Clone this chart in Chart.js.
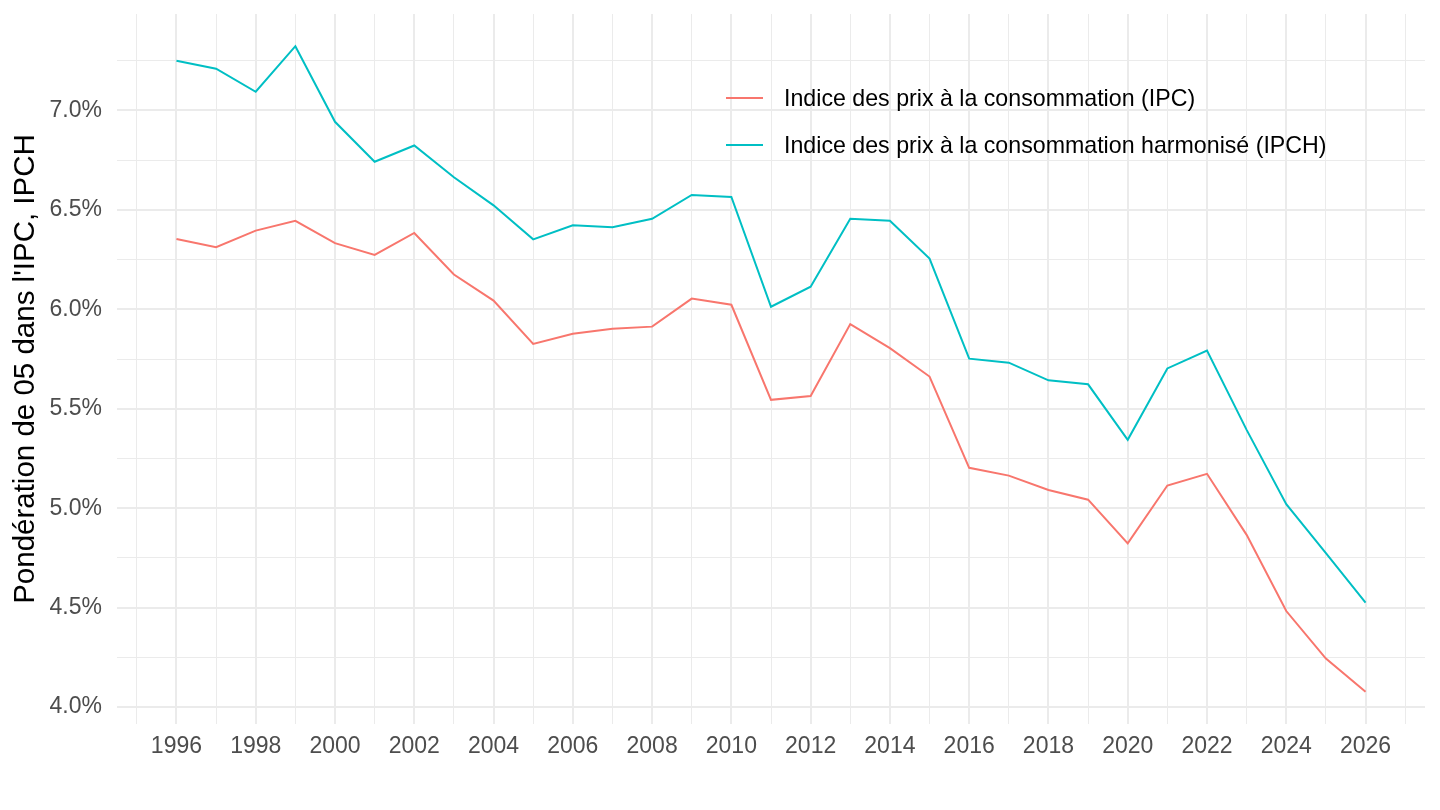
<!DOCTYPE html>
<html>
<head>
<meta charset="utf-8">
<script src="https://cdn.jsdelivr.net/npm/chart.js@4"></script>
<style>
  html, body { margin: 0; padding: 0; background: #fff; }
  #wrap { position: relative; width: 1440px; height: 810px; }
  #legend {
    position: absolute; left: 726px; top: 74.5px;
    font-family: "Liberation Sans", Arial, sans-serif; font-size: 23.2px; color: #000;
  }
  .item { display: flex; align-items: center; height: 47px; white-space: nowrap; }
  .swatch { width: 37px; height: 2px; margin-right: 21px; }
</style>
</head>
<body>
<div id="wrap">
  <canvas id="chart" width="1440" height="810"></canvas>
  <div id="legend"></div>
</div>
<script>
/* ======================
   DATA
====================== */
const years = [1996, 1997, 1998, 1999, 2000, 2001, 2002, 2003, 2004, 2005, 2006,
    2007, 2008, 2009, 2010, 2011, 2012, 2013, 2014, 2015, 2016,
    2017, 2018, 2019, 2020, 2021, 2022, 2023, 2024, 2025, 2026];

const ipc = [6.354, 6.312, 6.396, 6.445, 6.333, 6.274, 6.384, 6.175, 6.044, 5.826, 5.877,
    5.902, 5.913, 6.054, 6.023, 5.545, 5.564, 5.926, 5.805, 5.662, 5.203,
    5.164, 5.092, 5.043, 4.823, 5.114, 5.173, 4.866, 4.483, 4.244, 4.077];

const ipch = [7.250, 7.210, 7.094, 7.323, 6.943, 6.742, 6.824, 6.664, 6.523, 6.352, 6.423,
    6.413, 6.455, 6.575, 6.565, 6.013, 6.114, 6.455, 6.445, 6.255, 5.752,
    5.732, 5.643, 5.623, 5.344, 5.703, 5.793, 5.394, 5.020, 4.774, 4.525];

const seriesNames = ["Indice des prix à la consommation (IPC)",
    "Indice des prix à la consommation harmonisé (IPCH)"];

const xMajorTicks = [1996, 1998, 2000, 2002, 2004, 2006, 2008, 2010, 2012, 2014,
    2016, 2018, 2020, 2022, 2024, 2026];
const xMinorTicks = [1995, 1997, 1999, 2001, 2003, 2005, 2007, 2009, 2011, 2013,
    2015, 2017, 2019, 2021, 2023, 2025, 2027];
const yMajorTicks = [4.0, 4.5, 5.0, 5.5, 6.0, 6.5, 7.0];
const yMinorTicks = [4.25, 4.75, 5.25, 5.75, 6.25, 6.75, 7.25];

const colors = { ipc: "#F8766D", ipch: "#00BFC4", grid: "#EBEBEB", text: "#4D4D4D" };
const FONT = "'Liberation Sans', Arial, sans-serif";

/* ======================
   LEGEND (HTML)
====================== */
const legendEl = document.getElementById("legend");
[colors.ipc, colors.ipch].forEach(function (c, i) {
    legendEl.innerHTML += `<div class="item"><span class="swatch" style="background:${c}"></span>${seriesNames[i]}</div>`;
});

/* ======================
   CHART
====================== */
const allTicks = (major, minor) => major.concat(minor).sort((a, b) => a - b).map(v => ({ value: v }));
const isMajor = (list, v) => list.some(m => Math.abs(m - v) < 1e-6);

new Chart(document.getElementById("chart"), {
    type: "line",
    data: {
        datasets: [
            {
                label: seriesNames[0],
                data: years.map((y, i) => ({ x: y, y: ipc[i] })),
                borderColor: colors.ipc,
                borderWidth: 2,
                pointRadius: 0,
                tension: 0,
            },
            {
                label: seriesNames[1],
                data: years.map((y, i) => ({ x: y, y: ipch[i] })),
                borderColor: colors.ipch,
                borderWidth: 2,
                pointRadius: 0,
                tension: 0,
            },
        ],
    },
    options: {
        responsive: false,
        animation: false,
        layout: { padding: { top: 14, right: 15, left: 0, bottom: 0 } },
        plugins: { legend: { display: false }, tooltip: { enabled: false } },
        scales: {
            x: {
                type: "linear",
                min: 1994.5,
                max: 2027.5,
                afterBuildTicks: s => { s.ticks = allTicks(xMajorTicks, xMinorTicks); },
                afterFit: s => { s.height = 86; s.paddingLeft = 0; s.paddingRight = 0; },
                border: { display: false },
                grid: {
                    drawTicks: false,
                    color: colors.grid,
                    lineWidth: ctx => isMajor(xMajorTicks, ctx.tick.value) ? 2 : 1,
                },
                ticks: {
                    autoSkip: false,
                    maxRotation: 0,
                    padding: 9,
                    color: colors.text,
                    font: { family: FONT, size: 23 },
                    callback: v => isMajor(xMajorTicks, v) ? String(v) : "",
                },
            },
            y: {
                min: 3.915,
                max: 7.485,
                afterBuildTicks: s => { s.ticks = allTicks(yMajorTicks, yMinorTicks); },
                afterFit: s => { s.width = 117; s.paddingTop = 0; s.paddingBottom = 0; },
                border: { display: false },
                grid: {
                    drawTicks: false,
                    color: colors.grid,
                    lineWidth: ctx => isMajor(yMajorTicks, ctx.tick.value) ? 2 : 1,
                },
                ticks: {
                    autoSkip: false,
                    padding: 15,
                    color: colors.text,
                    font: { family: FONT, size: 23 },
                    callback: v => isMajor(yMajorTicks, v) ? v.toFixed(1) + "%" : "",
                },
                title: {
                    display: true,
                    text: "Pondération de 05 dans l'IPC, IPCH",
                    color: "#000",
                    font: { family: FONT, size: 29.5 },
                    padding: { top: 8, bottom: 0 },
                },
            },
        },
    },
});
</script>
</body>
</html>
